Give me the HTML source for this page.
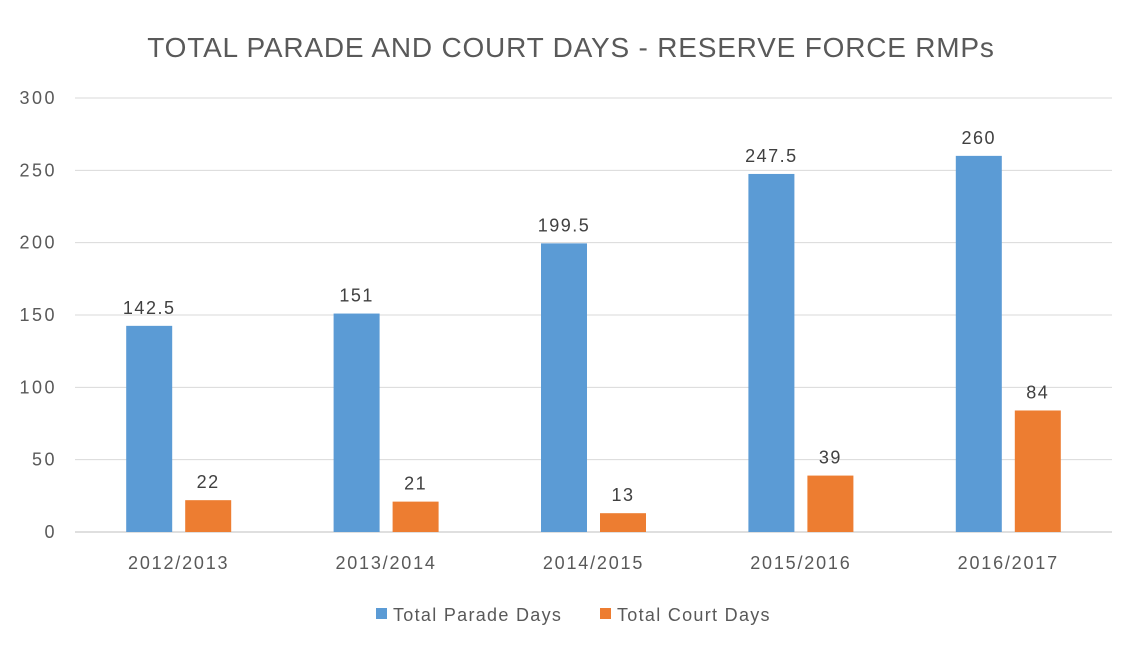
<!DOCTYPE html>
<html><head><meta charset="utf-8"><style>
body{margin:0;background:#fff;}
svg{display:block;font-family:"Liberation Sans",sans-serif;}
</style></head><body>
<svg id="chart" width="1140" height="655">
<text x="571" y="57" text-anchor="middle" font-size="28" letter-spacing="0.8" fill="#595959">TOTAL PARADE AND COURT DAYS - RESERVE FORCE RMPs</text>
<g id="grid"></g><g id="bars"></g><g id="labels"></g>
<g>
<rect x="376" y="608" width="11" height="11" fill="#5B9BD5"/>
<text x="393" y="621" font-size="18" letter-spacing="1.3" fill="#595959">Total Parade Days</text>
<rect x="600" y="608" width="11" height="11" fill="#ED7D31"/>
<text x="617" y="621" font-size="18" letter-spacing="1.3" fill="#595959">Total Court Days</text>
</g>
</svg>
<script>
const categories=["2012/2013","2013/2014","2014/2015","2015/2016","2016/2017"];
const paradeDays=[142.5,151,199.5,247.5,260];
const courtDays=[22,21,13,39,84];
const yTicks=[0,50,100,150,200,250,300];
const NS="http://www.w3.org/2000/svg";
const x0=75,x1=1112,y0=532,y1=98,yMax=300;
const y=v=>y0-(v/yMax)*(y0-y1);
const bw=(x1-x0)/categories.length;
const xc=i=>x0+bw*(i+0.5);
function mk(t,a,p){const e=document.createElementNS(NS,t);for(const k in a)e.setAttribute(k,a[k]);p.appendChild(e);return e;}
const grid=document.getElementById('grid'),bars=document.getElementById('bars'),labels=document.getElementById('labels');
yTicks.forEach(t=>{
 const l=mk('line',{x1:x0,x2:x1,y1:y(t),y2:y(t),stroke:t===0?'#BFBFBF':'#D9D9D9','stroke-width':1},grid);
 
 
 const tx=mk('text',{x:57,y:y(t)+6,'text-anchor':'end','font-size':18,'letter-spacing':2.5,fill:'#595959'},grid);
 tx.textContent=t;
 
 
});
const barW=46,gap=13;
categories.forEach((c,i)=>{
 const cx=xc(i);
 const series=[[paradeDays[i],'#5B9BD5',cx-gap/2-barW,'parade'],[courtDays[i],'#ED7D31',cx+gap/2,'court']];
 series.forEach(([v,col,bx,nm])=>{
  const r=mk('rect',{x:bx,y:y(v),width:barW,height:y0-y(v),fill:col},bars);
  
  
  const t=mk('text',{x:bx+barW/2,y:y(v)-12,'text-anchor':'middle','font-size':18,'letter-spacing':1.5,fill:'#404040'},labels);
  t.textContent=v;
  
  
 });
 const ct=mk('text',{x:cx,y:569,'text-anchor':'middle','font-size':18,'letter-spacing':1.8,fill:'#595959'},labels);
 ct.textContent=c;
 
 
});
</script>
</body></html>
